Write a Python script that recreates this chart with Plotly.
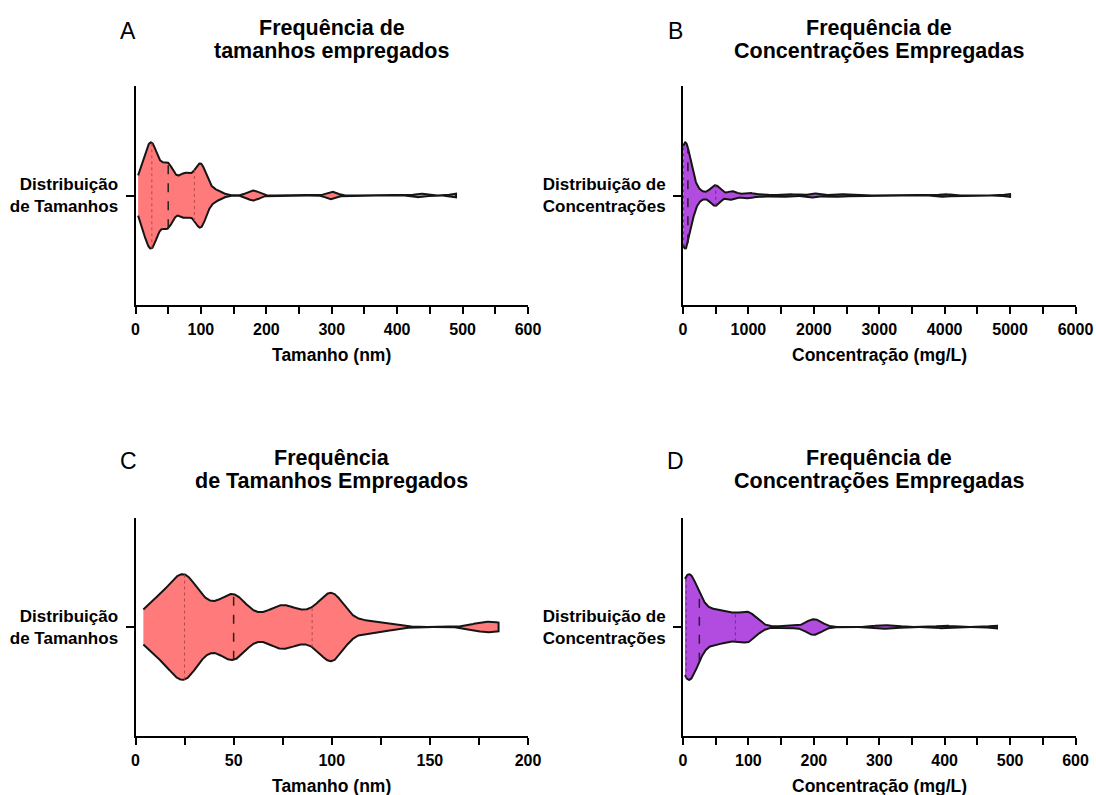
import numpy as np
import plotly.graph_objects as go

# ---------------- data ----------------
# Sizes (nm) used, <= 200 nm (panel C); panel A adds the larger sizes
size_values = [4, 8, 10, 15, 20, 25, 30, 35, 40, 45, 50, 55, 60, 65, 70, 75, 80, 85, 90,
               100, 110, 120, 130, 175, 180, 185]
size_counts = [3, 2, 4, 4, 8, 12, 6, 3, 3, 3, 10, 2, 2, 1, 3, 5, 3, 1, 4,
               14, 2, 2, 1, 1, 1, 1]
size_extra_values = [300, 435, 490]
size_extra_counts = [2, 1, 1]

# Concentrations (mg/L) used, <= 500 mg/L (panel D); panel B adds the larger ones
conc_values = [3, 5, 10, 15, 20, 25, 30, 40, 50, 60, 70, 75, 80, 100, 120, 160, 200,
               300, 320, 400, 480]
conc_counts = [10, 14, 10, 3, 4, 6, 3, 3, 6, 4, 2, 2, 4, 10, 1, 1, 6,
               1, 1, 1, 1]
conc_extra_values = [500, 750, 1000, 1200, 1250, 1500, 1600, 1700, 2000, 2300, 2400, 2500,
                     4000, 5000]
conc_extra_counts = [13, 6, 4, 1, 1, 1, 1, 1, 3, 1, 1, 1, 2, 2]

panel_letters = ["A", "B", "C", "D"]
panel_titles = [["Frequência de", "tamanhos empregados"],
                ["Frequência de", "Concentrações Empregadas"],
                ["Frequência", "de Tamanhos Empregados"],
                ["Frequência de", "Concentrações Empregadas"]]
x_titles = ["Tamanho (nm)", "Concentração (mg/L)", "Tamanho (nm)", "Concentração (mg/L)"]
y_labels = ["Distribuição<br>de Tamanhos", "Distribuição de<br>Concentrações",
            "Distribuição<br>de Tamanhos", "Distribuição de<br>Concentrações"]
x_ranges = [600, 6000, 200, 600]
x_dticks = [100, 1000, 50, 100]
bandwidths = [8.0, 75.0, 6.0, 12.0]

RED = "#FF7B7B"
PURPLE = "#B24CE0"
fills = [RED, PURPLE, RED, PURPLE]
quart_colors = ["#B24A4A", "#6E2A8E", "#B24A4A", "#6E2A8E"]

datasets = [
    (size_values + size_extra_values, size_counts + size_extra_counts),
    (conc_values + conc_extra_values, conc_counts + conc_extra_counts),
    (size_values, size_counts),
    (conc_values, conc_counts),
]

W, H = 1096, 795
# plot areas in pixels: (left, right, top, bottom)
areas = [(135.5, 528, 86, 305), (683, 1075.5, 86, 305),
         (135.5, 528, 518, 736), (683, 1075.5, 518, 736)]
HALF = 0.485


def kde(values, counts, bw, n=900):
    v = np.asarray(values, float)
    c = np.asarray(counts, float)
    grid = np.linspace(v.min(), v.max(), n)
    dens = (c[None, :] * np.exp(-0.5 * ((grid[:, None] - v[None, :]) / bw) ** 2)).sum(1)
    return grid, dens / dens.max()


FONT = "Liberation Sans, Arial, sans-serif"
fig = go.Figure()
layout = dict(width=W, height=H, autosize=False, margin=dict(l=0, r=0, t=0, b=0, pad=0),
              paper_bgcolor="white", plot_bgcolor="white", showlegend=False)
annotations = []

for i in range(4):
    vals, cnts = datasets[i]
    grid, d = kde(vals, cnts, bandwidths[i])
    sfx = "" if i == 0 else str(i + 1)
    xa, ya = "x" + sfx, "y" + sfx
    hw = HALF * d
    fig.add_trace(go.Scatter(
        x=np.concatenate([grid, grid[::-1]]),
        y=np.concatenate([hw, -hw[::-1]]),
        mode="lines", fill="toself", fillcolor=fills[i],
        line=dict(color="#151515", width=2), xaxis=xa, yaxis=ya, hoverinfo="skip"))
    sample = np.repeat(np.asarray(vals, float), cnts)
    q1, med, q3 = np.percentile(sample, [25, 50, 75])
    for q, style in [(q1, "q"), (q3, "q"), (med, "m")]:
        h = HALF * np.interp(q, grid, d)
        if style == "m":
            ln = dict(color="#222222", width=1.5, dash="dash")
        else:
            ln = dict(color=quart_colors[i], width=1, dash="dot")
        fig.add_trace(go.Scatter(x=[q, q], y=[-h, h], mode="lines", line=ln,
                                 xaxis=xa, yaxis=ya, hoverinfo="skip"))

    l, r, t, b = areas[i]
    xdom = [l / W, r / W]
    ydom = [1 - b / H, 1 - t / H]
    layout["xaxis" + sfx] = dict(
        domain=xdom, range=[0, x_ranges[i]], anchor=ya, showline=True, linecolor="black",
        linewidth=2, ticks="outside", ticklen=7, tickwidth=2, tickcolor="black",
        tick0=0, dtick=x_dticks[i], showgrid=False, zeroline=False, automargin=False,
        minor=dict(dtick=x_dticks[i] / 2, ticks="outside", ticklen=7, tickwidth=2,
                   tickcolor="black", showgrid=False),
        tickfont=dict(family=FONT, size=16, color="black", weight="bold"),
        ticklabelstandoff=2, fixedrange=True)
    layout["yaxis" + sfx] = dict(
        domain=ydom, range=[-1, 1], anchor=xa, showline=True, linecolor="black",
        linewidth=2, ticks="outside", ticklen=8, tickwidth=2, tickcolor="black",
        tickvals=[0], ticktext=[y_labels[i]], showgrid=False, zeroline=False,
        automargin=False,
        tickfont=dict(family=FONT, size=17, color="black", weight="bold"),
        ticklabelstandoff=4, fixedrange=True)

    cx = (l + r) / 2
    ty = 28 if i < 2 else 458
    annotations.append(dict(text=panel_letters[i], x=(l - 7.5) / W, y=1 - (ty + 3) / H,
                            xref="paper", yref="paper", showarrow=False,
                            xanchor="center", yanchor="middle",
                            font=dict(family=FONT, size=23, color="black")))
    for k, line in enumerate(panel_titles[i]):
        annotations.append(dict(text="<b>" + line + "</b>", x=cx / W,
                                y=1 - (ty + 23 * k) / H, xref="paper", yref="paper",
                                showarrow=False, xanchor="center", yanchor="middle",
                                font=dict(family=FONT, size=21.5, color="black")))
    annotations.append(dict(text="<b>" + x_titles[i] + "</b>", x=cx / W,
                            y=1 - (b + 50) / H, xref="paper", yref="paper",
                            showarrow=False, xanchor="center", yanchor="middle",
                            font=dict(family=FONT, size=17.5, color="black")))

layout["annotations"] = annotations
fig.update_layout(**layout)
fig.write_html("out.html", config={"responsive": False, "displayModeBar": False},
               post_script="document.body.style.margin='0';"
                           "document.body.style.overflow='hidden';")
